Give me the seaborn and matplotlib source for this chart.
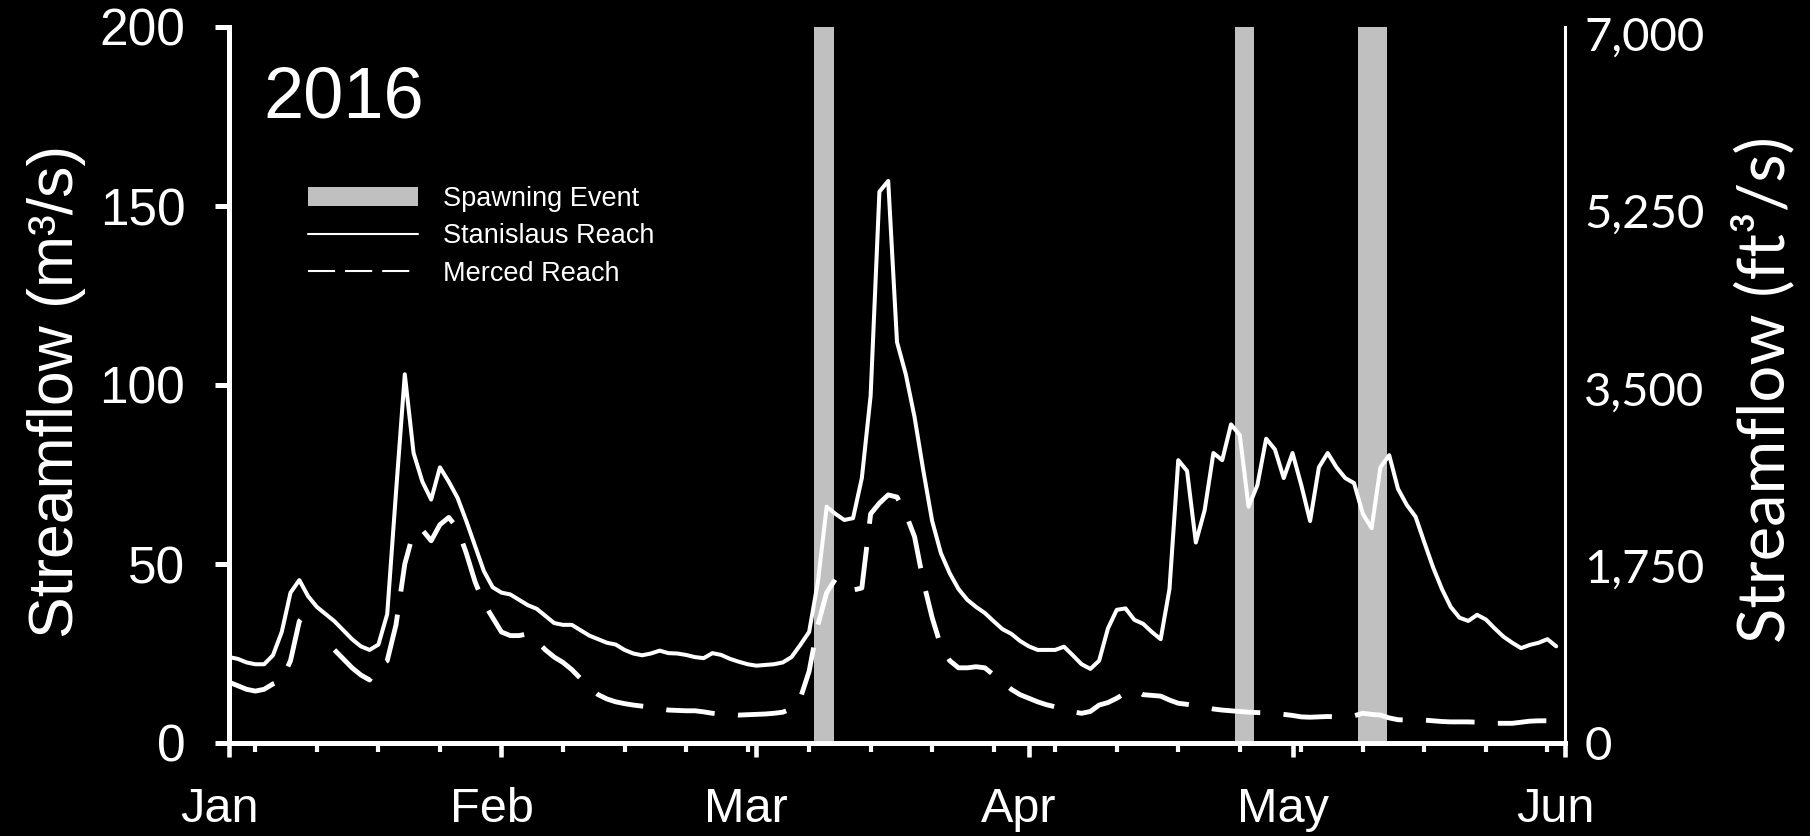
import pandas as pd
import matplotlib
matplotlib.use("Agg")
import matplotlib.pyplot as plt
import matplotlib.dates as mdates
import matplotlib.transforms as mtransforms
from matplotlib.lines import Line2D
from matplotlib.patches import Patch
import seaborn as sns

# daily streamflow (m3/s), 1 Jan - 31 May 2016
start_date = "2016-01-01"
stanislaus = [
    24, 23.5, 22.5, 22, 22, 24.5, 31, 42, 45.5, 41,
    38, 36, 34, 31.5, 29, 27, 26, 27.5, 36, 70,
    103, 81, 73, 68, 77, 73, 68.5, 62, 55, 48,
    43.5, 42, 41.5, 40, 38.5, 37.5, 35.5, 33.5, 33, 33,
    31.5, 30, 29, 28, 27.5, 26, 25, 24.5, 25, 25.8,
    25.1, 25, 24.6, 24, 23.7, 25.1, 24.6, 23.5, 22.7, 22,
    21.6, 21.8, 22, 22.5, 24, 27.4, 31, 45, 66, 64,
    62.3, 62.8, 74, 97, 154, 157, 112, 103, 91, 76,
    62, 53, 47.4, 43, 40, 38, 36.3, 34, 31.8, 30.5,
    28.5, 27, 26, 26, 26, 26.9, 24.5, 22, 20.7, 23,
    32, 37.2, 37.6, 34.4, 33.3, 31, 29, 43, 79, 76,
    56, 65, 81, 79, 89, 86, 66, 72, 85, 82,
    74, 81, 72, 62, 77, 81, 77, 74, 72.6, 64,
    60, 77, 80.4, 71, 66.5, 63.2, 56, 49, 43, 38,
    35, 34.1, 35.8, 34.5, 32, 29.7, 28, 26.5, 27.4, 28,
    29, 27,
]
merced = [
    17, 16, 15, 14.5, 15, 16.5, 17.5, 23, 34, 37,
    None, None, 26, 23.5, 21, 19, 17.6, 21.5, 23, 33,
    50, 59, 59.5, 56.5, 61, 63, 60, 53, 45, 39,
    35, 31, 30, 30, 30.5, 28.5, 26, 24, 22.5, 20.5,
    18, 15.5, 13.5, 12.3, 11.5, 11, 10.6, 10.3, 10, 9.6,
    9.2, 9.1, 9.0, 9.0, 8.7, 8.3, 8.1, 8.0, 7.8, 7.9,
    8.0, 8.1, 8.3, 8.6, 9.6, 12.5, 20, 33, 42, 45.8,
    44.5, 42.7, 43.3, 64, 67, 69.3, 68.7, 64, 57.6, 45,
    35, 27, 23, 21, 21, 21.3, 21, 19, 17, 15,
    13.5, 12.5, 11.5, 10.7, 10.1, 9.2, 8.7, 8.3, 8.8, 10.6,
    11.3, 12.5, 14, 14.8, 13.5, 13.3, 13.1, 12, 11.1, 10.8,
    10.4, 10, 9.5, 9.2, 9, 8.8, 8.6, 8.5, 8.4, 8.3,
    8, 7.7, 7.3, 7.2, 7.3, 7.4, 7.3, 7.3, 7.6, 8.3,
    8, 7.8, 7, 6.5, 6.4, 6.4, 6.4, 6.2, 6, 5.9,
    5.9, 5.9, 5.8, 5.6, 5.5, 5.5, 5.5, 5.8, 6.1, 6.2,
    6.2, 6.0,
]
spawn_start = ["2016-03-07 12:00", "2016-04-24 10:00", "2016-05-08 10:00"]
spawn_end = ["2016-03-09 19:00", "2016-04-26 14:00", "2016-05-11 17:00"]
legend_labels = ["Spawning Event", "Stanislaus Reach", "Merced Reach"]
yticks_cms = [0, 50, 100, 150, 200]
yticks_cfs = [0, 1750, 3500, 5250, 7000]
month_starts = ["2016-01-01", "2016-02-01", "2016-03-01", "2016-04-01", "2016-05-01", "2016-06-01"]
month_labels = ["Jan", "Feb", "Mar", "Apr", "May", "Jun"]
year_label = "2016"
CFS_PER_CMS = 35.3147

dates = pd.date_range(start_date, periods=len(stanislaus), freq="D")
df = pd.DataFrame({"date": dates, "stanislaus": stanislaus, "merced": merced})
df["merced"] = pd.to_numeric(df["merced"])
# missing days split the Merced record into pieces
df["piece"] = df["merced"].isna().cumsum()

sns.set_theme(style="dark", rc={
    "figure.facecolor": "black", "axes.facecolor": "black",
    "axes.edgecolor": "white", "text.color": "white",
    "xtick.color": "white", "ytick.color": "white",
    "axes.labelcolor": "white", "axes.grid": False,
})
plt.rcParams["font.family"] = ["Liberation Sans", "DejaVu Sans"]
calibri_like = ["Lato", "DejaVu Sans"]

W, H = 1810, 836
fig = plt.figure(figsize=(W / 100, H / 100), dpi=100)
ax = fig.add_axes([229 / W, (H - 743) / H, (1565 - 229) / W, (743 - 27) / H])

for s, e in zip(spawn_start, spawn_end):
    ax.axvspan(pd.Timestamp(s), pd.Timestamp(e), color="#c0c0c0", lw=0, zorder=1)

sns.lineplot(data=df, x="date", y="stanislaus", color="white", lw=2.9,
             ax=ax, zorder=3)
sns.lineplot(data=df.dropna(subset=["merced"]), x="date", y="merced",
             units="piece", estimator=None, color="white", lw=3.5,
             linestyle=(0, (10, 4.8)), ax=ax, zorder=3)

ax.set_xlim(pd.Timestamp("2016-01-01"), pd.Timestamp("2016-06-01"))
ax.set_ylim(0, 200)
ax.set_xlabel("")
ax.set_ylabel("")

ax.set_xticks(pd.to_datetime(month_starts))
ax.set_xticklabels(month_labels)
ax.xaxis.set_minor_locator(mdates.WeekdayLocator(byweekday=mdates.MO))
ax.set_yticks(yticks_cms)
ax.set_yticklabels([str(v) for v in yticks_cms])

ax.tick_params(axis="x", which="major", direction="out", length=10, width=3.3,
               pad=21.5, labelsize=35, bottom=True, colors="white")
ax.tick_params(axis="x", which="minor", direction="out", length=6.5, width=3,
               bottom=True, colors="white")
ax.tick_params(axis="y", which="major", direction="out", length=10, width=3.6,
               pad=21.5, labelsize=37, left=True, colors="white")
shift = mtransforms.ScaledTranslation(-10 / 100, 0, fig.dpi_scale_trans)
for tick in ax.xaxis.get_major_ticks():
    tick.label1.set_transform(tick.label1.get_transform() + shift)

for side in ["top", "right"]:
    ax.spines[side].set_visible(False)
for side in ["left", "bottom"]:
    ax.spines[side].set_color("white")
    ax.spines[side].set_linewidth(3.6)

ax2 = ax.twinx()
ax2.set_ylim(0, 200 * CFS_PER_CMS)
ax2.set_yticks(yticks_cfs)
ax2.set_yticklabels([f"{v:,}" for v in yticks_cfs], fontfamily=calibri_like,
                    fontsize=34)
ax2.tick_params(axis="y", length=0, pad=14, right=True, colors="white")
for side in ["top", "left", "bottom"]:
    ax2.spines[side].set_visible(False)
ax2.spines["right"].set_color("white")
ax2.spines["right"].set_linewidth(2.2)
ax2.set_ylabel("")

fig.text(57 / W, 1 - 391 / H, "Streamflow (m³/s)", rotation=90,
         ha="center", va="center", fontsize=45)
fig.text(1763 / W, 1 - 390 / H, "Streamflow (ft³/s)", rotation=90,
         ha="center", va="center", fontsize=47, family=calibri_like)
fig.text(263 / W, 1 - 117 / H, year_label, fontsize=52, ha="left", va="baseline")

handles = [
    Patch(facecolor="#c0c0c0", edgecolor="none"),
    Line2D([], [], color="white", lw=1.5),
    Line2D([], [], color="white", lw=1.5, linestyle=(0, (13, 4.8))),
]
ax.legend(handles, legend_labels, loc="upper left",
          bbox_to_anchor=(308 / W, 1 - 186 / H), bbox_transform=fig.transFigure,
          frameon=False, fontsize=19.5, handlelength=4.06, handleheight=0.66,
          handletextpad=0.92, labelspacing=0.42, borderpad=0, borderaxespad=0,
          labelcolor="white")

fig.savefig("out.png", dpi=100, facecolor="black")
